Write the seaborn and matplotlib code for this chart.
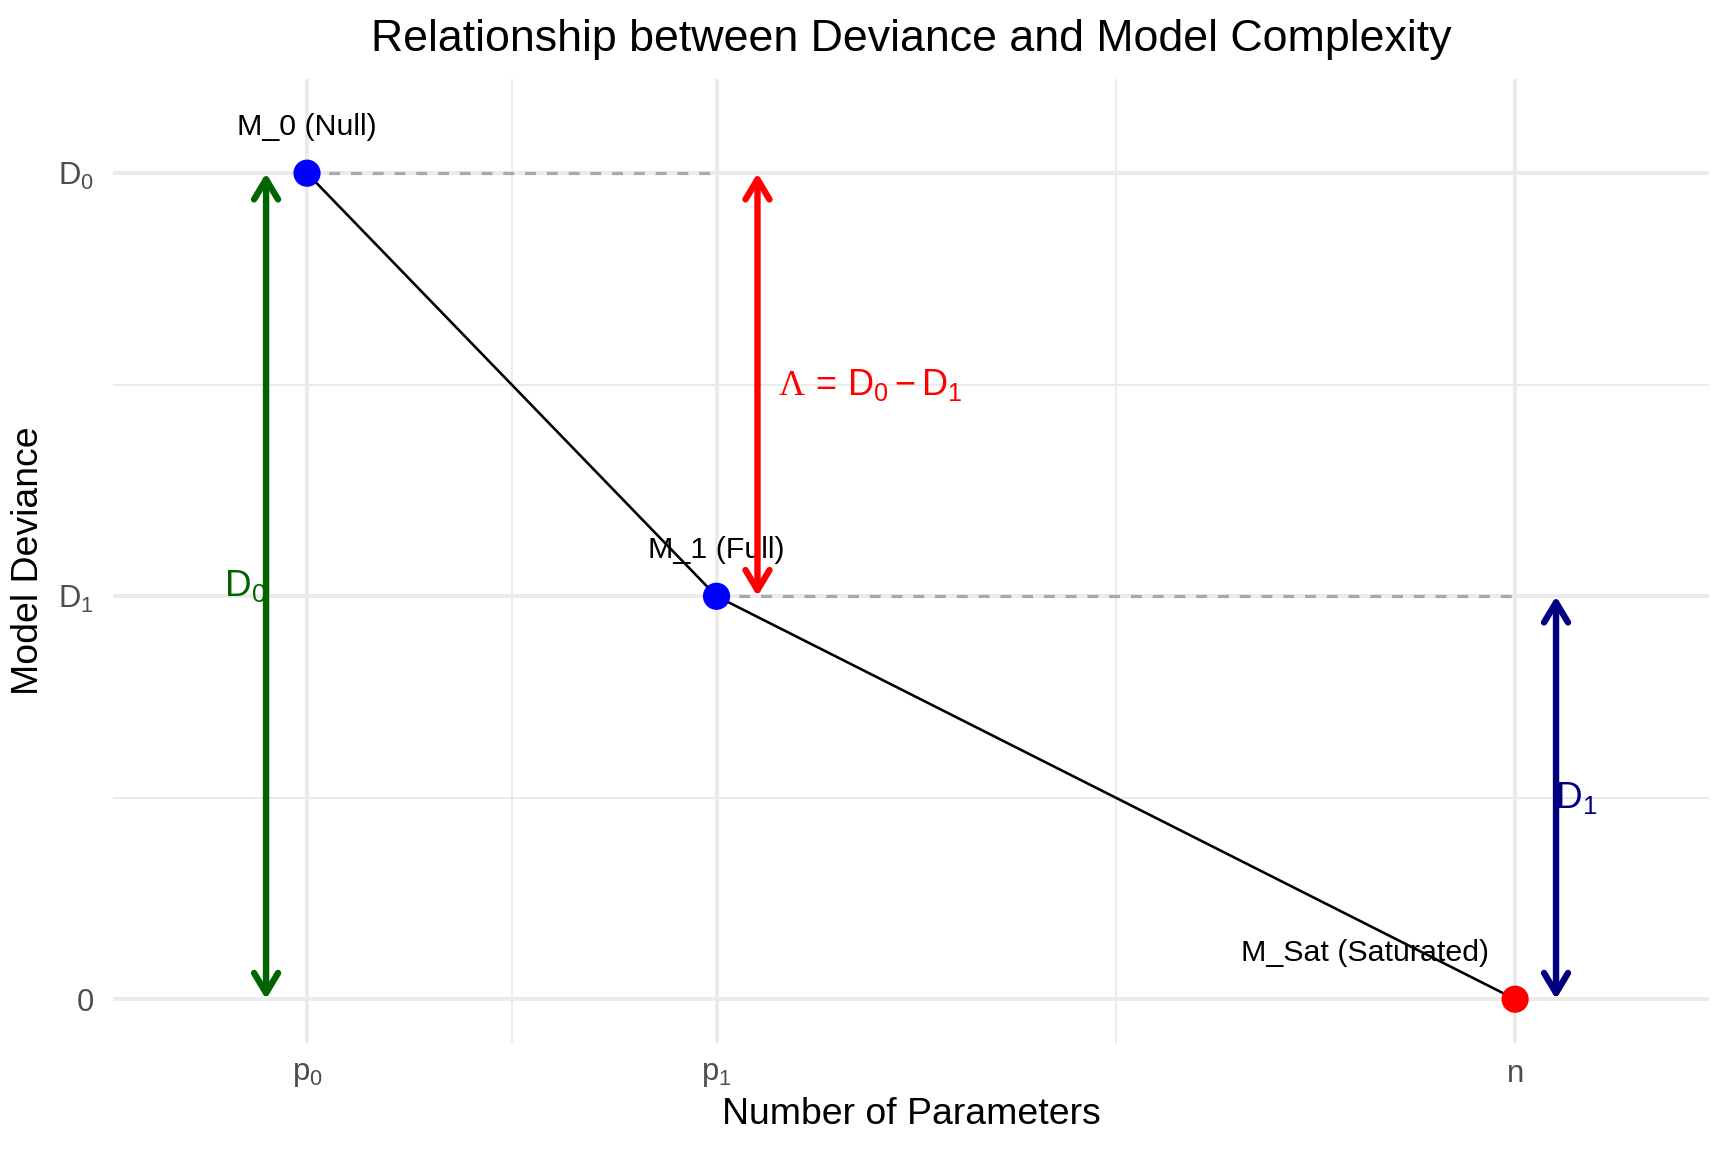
import matplotlib
matplotlib.use("Agg")
import matplotlib.pyplot as plt
import seaborn as sns
import pandas as pd

# model points: number of parameters vs deviance
models = ["M_0 (Null)", "M_1 (Full)", "M_Sat (Saturated)"]
n_params = [1, 3, 6.9]
deviance = [41, 20, 0]
point_colors = ["blue", "blue", "red"]

x_tick_labels = [r"$\mathrm{p}_0$", r"$\mathrm{p}_1$", r"$\mathrm{n}$"]
y_tick_labels = [r"$\mathrm{D}_0$", r"$\mathrm{D}_1$", "0"]

df = pd.DataFrame({
    "model": models,
    "params": n_params,
    "deviance": deviance
})

sns.set_theme(style="white")
plt.rcParams["font.family"] = ["Liberation Sans", "DejaVu Sans"]
plt.rcParams["mathtext.fontset"] = "custom"
plt.rcParams["mathtext.rm"] = "Liberation Sans"
plt.rcParams["mathtext.it"] = "Liberation Sans:italic"
plt.rcParams["mathtext.sf"] = "Liberation Serif"
plt.rcParams["text.color"] = "black"
plt.rcParams["axes.labelcolor"] = "black"

W, H = 1728, 1152
fig = plt.figure(figsize=(12, 8), dpi=144)
ax = fig.add_axes([113 / W, 1 - 1043 / H, (1709 - 113) / W, (1043 - 79) / H])

p0, p1, pn = n_params
d0, d1, dsat = deviance

# dashed reference lines
dash_kw = dict(color="#A9A9A9", lw=1.6, ls=(0, (3.4, 3.4)), zorder=2)
ax.plot([p0, p1], [d0, d0], **dash_kw)
ax.plot([p1, pn], [d1, d1], **dash_kw)

# deviance path
sns.lineplot(data=df, x="params", y="deviance", color="black",
             lw=1.3, sort=False, ax=ax, zorder=3)

# point labels
for i, row in df.iterrows():
    if i == len(df) - 1:
        ax.annotate(row["model"], (row["params"], row["deviance"]),
                    xytext=(-13, 23), textcoords="offset points",
                    ha="right", va="center", fontsize=15.2, zorder=4)
    else:
        ax.annotate(row["model"], (row["params"], row["deviance"]),
                    xytext=(0, 23), textcoords="offset points",
                    ha="center", va="center", fontsize=15.2, zorder=4)

sns.scatterplot(data=df, x="params", y="deviance", hue="model",
                palette=dict(zip(models, point_colors)), s=185,
                linewidth=0, legend=False, ax=ax, zorder=5)


def double_arrow(x, y_lo, y_hi, color):
    ax.annotate("", xy=(x, y_hi), xytext=(x, y_lo),
                arrowprops=dict(arrowstyle="<->,head_length=0.5,head_width=0.3",
                                color=color, lw=3.2, shrinkA=0, shrinkB=0,
                                mutation_scale=20),
                zorder=6)


offset = 0.2
double_arrow(p0 - offset, dsat, d0, "#006400")
double_arrow(p1 + offset, d1, d0, "red")
double_arrow(pn + offset, dsat, d1, "#000080")

ax.text(p0 - 0.3, d0 / 2, r"$\mathrm{D}_0$", color="#006400",
        fontsize=18.5, ha="center", va="center", zorder=7)
ax.text(pn + 0.3, d1 / 2, r"$\mathrm{D}_1$", color="#000080",
        fontsize=18.5, ha="center", va="center", zorder=7)
ax.text(p1 + 0.3, (d0 + d1) / 2,
        r"$\mathsf{\Lambda}\,=\,\mathrm{D}_0-\mathrm{D}_1$", color="red",
        fontsize=18, ha="left", va="center", zorder=7)

# axes, ticks and grid
minor_x = [(a + b) / 2 for a, b in zip(n_params[:-1], n_params[1:])]
minor_y = [(a + b) / 2 for a, b in zip(deviance[:-1], deviance[1:])]
ax.set_xticks(n_params, labels=x_tick_labels)
ax.set_xticks(minor_x, minor=True)
ax.set_yticks(deviance, labels=y_tick_labels)
ax.set_yticks(minor_y, minor=True)

ax.set_xlim(0.0525, 7.847)
ax.set_ylim(-2.175, 45.675)

ax.grid(which="major", color="#EBEBEB", lw=2)
ax.grid(which="minor", color="#EBEBEB", lw=1)
ax.set_axisbelow(True)
for s in ax.spines.values():
    s.set_visible(False)

ax.tick_params(axis="both", which="both", length=0, labelsize=15.5,
               labelcolor="#4D4D4D")
ax.tick_params(axis="x", pad=8)
ax.tick_params(axis="y", pad=9.5)

ax.set_xlabel("Number of Parameters", fontsize=18.7, labelpad=4)
ax.set_ylabel("Model Deviance", fontsize=18.7, labelpad=6)
ax.set_title("Relationship between Deviance and Model Complexity",
             fontsize=22.4, pad=14)

fig.savefig("out.png", dpi=144)
